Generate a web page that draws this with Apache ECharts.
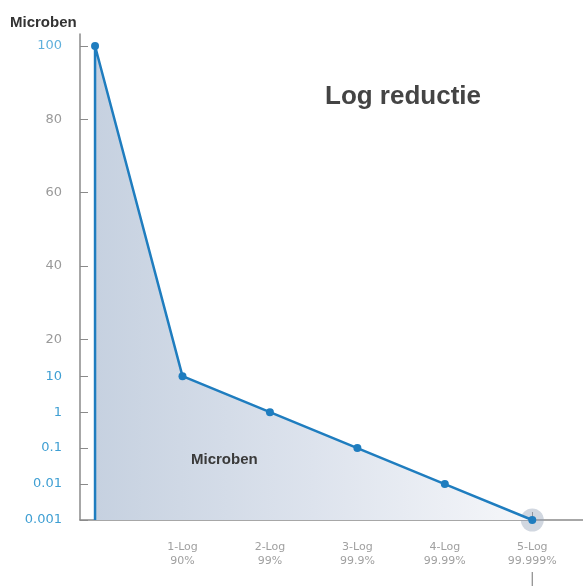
<!DOCTYPE html>
<html>
<head>
<meta charset="utf-8">
<script src="https://cdn.jsdelivr.net/npm/echarts@6/dist/echarts.min.js"></script>
<style>html,body{margin:0;padding:0;background:#fff}#c{width:583px;height:587px}</style>
</head>
<body>
<div id="c"></div>
<script>
// Data
var steps = [0, 1, 2, 3, 4, 5];
var stepLabels = ['', '1-Log\n90%', '2-Log\n99%', '3-Log\n99.9%', '4-Log\n99.99%', '5-Log\n99.999%'];
var microbes = [100, 10, 1, 0.1, 0.01, 0.001];
var yTickValues = [100, 80, 60, 40, 20, 10, 1, 0.1, 0.01, 0.001];
var yTickLabels = ['100', '80', '60', '40', '20', '10', '1', '0.1', '0.01', '0.001'];

// Axis mapping: linear above 10, fixed step per decade below 10
function toAxis(v) { return v >= 10 ? v : 10 + 9.8 * Math.log10(v / 10); }
var yAxisVals = yTickValues.map(toAxis);
var labelMap = {};
yAxisVals.forEach(function (a, i) { labelMap[a.toFixed(1)] = yTickLabels[i]; });
var blueLabels = { '100': 1, '10': 1, '1': 1, '0.1': 1, '0.01': 1, '0.001': 1 };

var baseY = toAxis(microbes[microbes.length - 1]);
var lineData = [{ value: [steps[0], baseY], symbol: 'none' }];
steps.forEach(function (s, i) { lineData.push([s, toAxis(microbes[i])]); });

var textFont = 'bold 15px "Liberation Sans"';
var baseGraphics = [
  { type: 'text', left: 10, top: 15, style: { text: 'Microben', font: textFont, fill: '#333' } },
  { type: 'text', left: 325, top: 84, style: { text: 'Log reductie', font: 'bold 26px "Liberation Sans"', fill: '#444' } },
  { type: 'text', left: 191, top: 452, style: { text: 'Microben', font: textFont, fill: '#3a3a3a' }, z: 10 }
];

var chart = echarts.init(document.getElementById('c'), null, { renderer: 'canvas' });
chart.setOption({
  animation: false,
  backgroundColor: '#fff',
  grid: { left: 80, right: 0, top: 34, bottom: 67 },
  xAxis: {
    type: 'value', min: -0.172, max: 5.58,
    splitLine: { show: false },
    axisLine: { show: true, onZero: false, lineStyle: { color: '#8a8a8a', width: 1.5 } },
    axisTick: { show: true, inside: true, length: 8, customValues: steps.slice(1), lineStyle: { color: '#8a8a8a', width: 1 } },
    axisLabel: {
      customValues: steps.slice(1),
      formatter: function (v) { return stepLabels[Math.round(v)]; },
      color: '#a0a0a0', fontSize: 11, fontFamily: 'DejaVu Sans', lineHeight: 14, margin: 20
    }
  },
  yAxis: {
    type: 'value', min: toAxis(0.001), max: 103.27,
    splitLine: { show: false },
    axisLine: { show: true, onZero: false, lineStyle: { color: '#8a8a8a', width: 1.5 } },
    axisTick: { show: true, inside: true, length: 8, customValues: yAxisVals, lineStyle: { color: '#8a8a8a', width: 1 } },
    axisLabel: {
      customValues: yAxisVals,
      formatter: function (v) { return labelMap[(+v).toFixed(1)]; },
      color: function (v) { var l = labelMap[(+v).toFixed(1)]; return blueLabels[l] ? (l === '100' ? '#5fb0dc' : '#3f9fd3') : '#9a9a9a'; },
      fontSize: 13, fontFamily: 'DejaVu Sans', margin: 18
    }
  },
  series: [
    {
      type: 'line',
      data: lineData,
      symbol: 'circle', symbolSize: 8,
      lineStyle: { color: '#1f7dbf', width: 2.5 },
      itemStyle: { color: '#1f7dbf' },
      areaStyle: {
        origin: 'start',
        color: new echarts.graphic.LinearGradient(0, 0, 1, 0, [
          { offset: 0, color: '#c6d1e0' },
          { offset: 0.5, color: '#dde3ed' },
          { offset: 1, color: '#f6f7fa' }
        ]),
        opacity: 1
      },
      z: 3
    },
    {
      type: 'scatter',
      data: [[steps[5], toAxis(microbes[5])]],
      symbolSize: 23,
      itemStyle: { color: 'rgba(150,165,185,0.55)' },
      z: 2
    }
  ],
  graphic: baseGraphics
});
var p = chart.convertToPixel({ gridIndex: 0 }, [steps[5], baseY]);
chart.setOption({
  graphic: baseGraphics.concat([
    { type: 'line', shape: { x1: p[0], y1: p[1] + 52, x2: p[0], y2: p[1] + 66 }, style: { stroke: '#8a8a8a', lineWidth: 1.2 } }
  ])
}, { replaceMerge: ['graphic'] });
</script>
</body>
</html>
